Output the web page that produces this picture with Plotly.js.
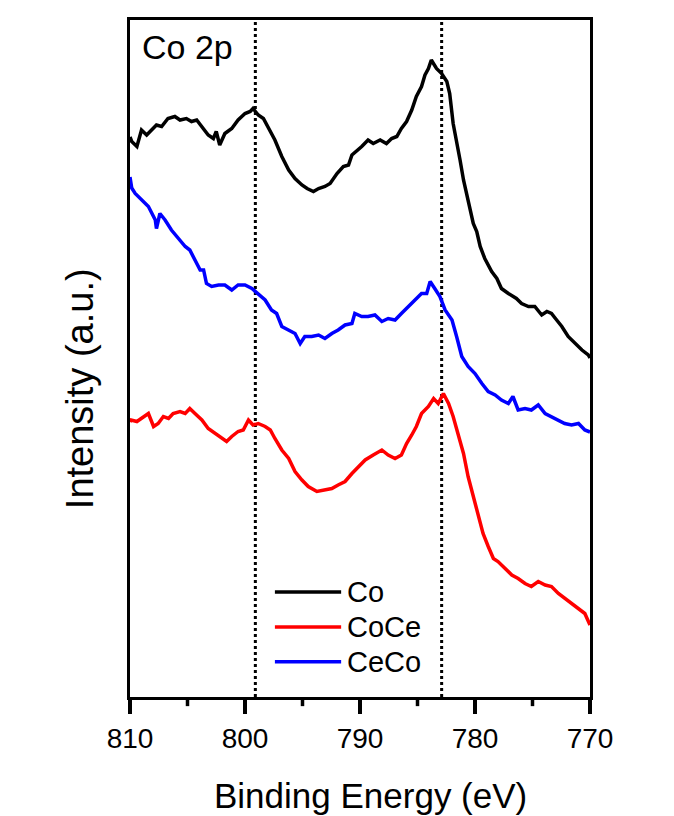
<!DOCTYPE html>
<html>
<head>
<meta charset="utf-8">
<script src="https://cdn.plot.ly/plotly-3.0.1.min.js"></script>
<style>
  html, body { margin: 0; padding: 0; background: #ffffff; }
  #chart { width: 674px; height: 816px; }
</style>
</head>
<body>
<div id="chart"></div>
<script>
// Co 2p XPS spectra, binding energy (eV) vs. intensity (a.u.), curves offset vertically.

const coE = [810.0, 809.85, 809.4, 809.0, 808.55, 808.1, 807.7, 807.25, 806.7, 806.1, 805.65, 805.1, 804.65, 804.2,
  803.6, 803.2, 802.75, 802.5, 802.2, 801.75, 801.15, 800.6, 800.0, 799.55, 799.3, 798.85, 798.4, 797.95,
  797.4, 796.8, 796.2, 795.65, 795.05, 794.6, 794.05, 793.6, 793.05, 792.6, 792.0, 791.45, 791.0, 790.7,
  790.15, 789.85, 789.3, 788.85, 788.25, 787.7, 787.25, 786.8, 786.4, 785.95, 785.5, 785.1, 784.65, 784.35,
  784.05, 783.8, 783.35, 782.9, 782.45, 782.2, 781.9, 781.6, 781.3, 781.0, 780.6, 780.15, 779.85, 779.55,
  779.15, 778.55, 778.1, 777.7, 777.1, 776.4, 775.95, 775.35, 774.8, 774.2, 773.75, 773.35, 772.9, 772.45,
  771.9, 771.3, 770.7, 770.15, 770.0];
const coI = [112.0, 111.1, 110.1, 113.4, 112.4, 113.4, 114.4, 114.1, 115.7, 116.1, 115.4, 115.7, 115.1, 115.4,
  113.7, 112.4, 111.7, 113.1, 110.4, 112.7, 113.7, 115.4, 116.7, 117.1, 117.7, 116.4, 115.7, 113.7,
  111.4, 108.1, 105.4, 103.7, 102.4, 101.7, 101.1, 101.7, 102.1, 102.7, 104.7, 106.1, 106.4, 108.4,
  109.4, 110.1, 111.4, 110.7, 111.4, 110.7, 111.7, 112.1, 113.7, 115.1, 117.4, 120.1, 122.1, 124.4,
  125.7, 127.4, 125.7, 124.7, 123.1, 120.7, 114.7, 111.4, 107.4, 103.4, 99.4, 94.7, 93.1, 90.1,
  87.7, 85.1, 83.7, 81.7, 80.7, 79.7, 78.7, 78.1, 78.1, 76.4, 77.1, 76.7, 75.4, 74.1,
  72.1, 70.7, 69.4, 68.4, 67.8];

const coceE = [810.0, 809.9, 809.4, 808.85, 808.4, 807.95, 807.55, 807.1, 806.65, 806.25, 805.65, 805.2, 804.8, 804.35,
  803.75, 803.2, 802.6, 802.0, 801.6, 801.15, 800.6, 800.15, 799.7, 799.3, 798.85, 798.25, 797.8, 797.4,
  796.8, 796.2, 795.65, 795.05, 794.5, 793.75, 793.05, 792.45, 791.9, 791.3, 790.7, 790.15, 789.55, 788.85,
  788.1, 787.55, 786.95, 786.4, 785.95, 785.5, 785.1, 784.65, 784.05, 783.6, 783.2, 782.75, 782.3, 781.9,
  781.45, 781.0, 780.6, 780.15, 779.7, 779.3, 778.85, 778.4, 778.0, 777.4, 776.8, 776.25, 775.65, 775.1,
  774.5, 773.9, 773.35, 772.75, 772.2, 771.6, 771.0, 770.45, 770.0];
const coceI = [55.0, 55.4, 55.1, 56.1, 56.7, 54.1, 54.7, 56.1, 55.7, 56.7, 57.1, 56.7, 57.7, 56.7,
  55.4, 53.7, 52.7, 51.7, 51.1, 52.1, 53.1, 53.4, 55.4, 54.4, 54.7, 54.1, 53.4, 51.7,
  49.4, 47.7, 45.1, 43.4, 42.1, 41.1, 41.4, 41.7, 42.4, 43.1, 44.7, 46.1, 47.4, 48.4,
  49.4, 48.4, 47.7, 48.4, 50.7, 52.4, 54.1, 56.7, 58.1, 59.7, 58.7, 60.7, 58.7, 56.1,
  52.7, 48.7, 44.1, 40.1, 36.1, 32.7, 30.1, 27.7, 27.1, 25.7, 24.4, 23.7, 22.7, 22.1,
  23.1, 22.4, 22.1, 20.7, 19.7, 18.7, 17.7, 16.7, 14.4];

const cecoE = [810.0, 809.85, 809.55, 808.99, 808.4, 807.8, 807.7, 807.4, 806.95, 806.4, 805.8, 805.2, 804.8, 804.35,
  803.9, 803.6, 803.35, 802.9, 802.3, 801.75, 801.15, 800.6, 800.0, 799.4, 798.85, 798.25, 797.7, 797.25,
  796.8, 796.2, 795.65, 795.2, 794.8, 794.2, 793.6, 793.05, 792.45, 791.9, 791.3, 790.7, 790.45, 789.85,
  789.3, 788.7, 788.1, 787.55, 786.95, 786.4, 785.8, 785.2, 784.65, 784.2, 783.9, 783.5, 783.05, 782.6,
  782.0, 781.6, 781.15, 780.6, 780.0, 779.4, 778.85, 778.25, 777.7, 777.1, 776.7, 776.25, 775.65, 775.1,
  774.5, 773.9, 773.35, 772.75, 772.2, 771.6, 771.0, 770.45, 770.0];
const cecoI = [104.0, 101.8, 100.7, 99.4, 98.1, 95.4, 93.7, 96.7, 95.4, 93.4, 91.7, 90.1, 89.4, 87.4,
  85.4, 85.4, 82.7, 82.1, 82.4, 82.4, 81.4, 82.4, 82.4, 81.7, 80.7, 79.4, 77.4, 76.7,
  74.1, 73.4, 72.7, 70.7, 72.1, 72.1, 72.4, 71.7, 72.7, 73.4, 74.4, 74.7, 76.7, 76.1,
  76.1, 76.4, 75.1, 75.7, 75.4, 76.7, 78.1, 79.4, 80.7, 80.7, 83.1, 81.7, 80.1, 77.4,
  75.4, 72.1, 68.1, 66.1, 64.7, 62.7, 61.1, 60.4, 59.4, 58.7, 60.1, 57.4, 57.7, 57.4,
  58.4, 56.7, 56.1, 55.4, 54.7, 54.4, 54.7, 53.4, 53.0];

const seriesNames = ['Co', 'CoCe', 'CeCo'];
const seriesColors = ['#000000', '#ff0000', '#0000ff'];
const seriesE = [coE, coceE, cecoE];
const seriesI = [coI, coceI, cecoI];

const xRange = [810, 770];
const majorTicks = [810, 800, 790, 780, 770];
const minorTicks = [805, 795, 785, 775];
const refLines = [799.1, 782.9];   // dotted guides at the satellite / main peak positions
const panelLabel = 'Co 2p';
const xTitle = 'Binding Energy (eV)';
const yTitle = 'Intensity (a.u.)';

const FONT = 'Liberation Sans, Arial, sans-serif';

const traces = seriesNames.map((name, i) => ({
  type: 'scatter',
  mode: 'lines',
  name: name,
  x: seriesE[i],
  y: seriesI[i],
  line: { color: seriesColors[i], width: 3.5 },
  showlegend: false
}));

const shapes = refLines.map(e => ({
  type: 'line', xref: 'x', yref: 'paper',
  x0: e, x1: e, y0: 0, y1: 1,
  line: { color: '#000000', width: 3, dash: 'dot' },
  layer: 'below'
}));

// outward tick marks under the energy axis, placed on the paper so they are not cropped
const axisFrac = v => (xRange[0] - v) / (xRange[0] - xRange[1]);
const tickDepth = { major: -0.0205, minor: -0.0135 };
majorTicks.forEach(v => shapes.push({
  type: 'line', xref: 'paper', yref: 'paper',
  x0: axisFrac(v), x1: axisFrac(v), y0: 0, y1: tickDepth.major,
  line: { color: '#000000', width: 3.5 }
}));
minorTicks.forEach(v => shapes.push({
  type: 'line', xref: 'paper', yref: 'paper',
  x0: axisFrac(v), x1: axisFrac(v), y0: 0, y1: tickDepth.minor,
  line: { color: '#000000', width: 3.5 }
}));

const annotations = [
  {
    text: panelLabel, xref: 'paper', yref: 'paper',
    x: 0.022, y: 0.96, xanchor: 'left', yanchor: 'middle',
    showarrow: false, font: { family: FONT, size: 34, color: '#000000' }
  },
  {
    text: xTitle, xref: 'paper', yref: 'paper',
    x: 0.522, y: -0.145, xanchor: 'center', yanchor: 'middle',
    showarrow: false, font: { family: FONT, size: 35, color: '#000000' }
  },
  {
    text: yTitle, xref: 'paper', yref: 'paper', textangle: -90,
    x: -0.109, y: 0.456, xanchor: 'center', yanchor: 'middle',
    showarrow: false, font: { family: FONT, size: 38, color: '#000000' }
  }
];

// hand-built legend: long line samples with labels beside them
const legX0 = 0.315, legX1 = 0.459, legTextX = 0.468;
const legRows = [0.155, 0.1035, 0.052];
seriesNames.forEach((name, i) => {
  shapes.push({
    type: 'line', xref: 'paper', yref: 'paper',
    x0: legX0, x1: legX1, y0: legRows[i], y1: legRows[i],
    line: { color: seriesColors[i], width: 3.5 }
  });
  annotations.push({
    text: name, xref: 'paper', yref: 'paper',
    x: legTextX, y: legRows[i], xanchor: 'left', yanchor: 'middle',
    showarrow: false, font: { family: FONT, size: 29, color: '#000000' }
  });
});

const layout = {
  width: 674, height: 816,
  margin: { l: 130, r: 84, t: 20, b: 119 },
  paper_bgcolor: '#ffffff',
  plot_bgcolor: '#ffffff',
  font: { family: FONT, color: '#000000' },
  showlegend: false,
  xaxis: {
    range: xRange,
    tickmode: 'array', tickvals: majorTicks, ticktext: majorTicks.map(String),
    ticks: 'outside', ticklen: 14, tickwidth: 3.5, tickcolor: '#000000',
    tickfont: { family: FONT, size: 28, color: '#000000' },
    showline: true, linewidth: 3, linecolor: '#000000', mirror: true,
    showgrid: false, zeroline: false
  },
  yaxis: {
    range: [0, 135.4],
    showticklabels: false, ticks: '',
    showline: true, linewidth: 3, linecolor: '#000000', mirror: true,
    showgrid: false, zeroline: false
  },
  shapes: shapes,
  annotations: annotations
};

Plotly.newPlot('chart', traces, layout, { staticPlot: true, displayModeBar: false });
</script>
</body>
</html>
